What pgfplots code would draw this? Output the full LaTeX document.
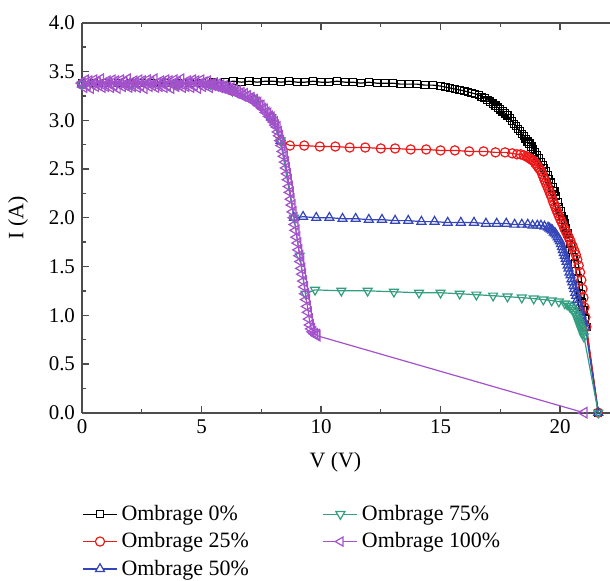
\documentclass[border=0pt]{standalone}
\usepackage{fontspec}
\setmainfont{Liberation Serif}
\usepackage{pgfplots}
\pgfplotsset{compat=1.18}
\usetikzlibrary{calc}

\definecolor{c0}{rgb}{0,0,0}
\definecolor{c25}{rgb}{0.93,0.1,0.1}
\definecolor{c50}{rgb}{0.2,0.27,0.72}
\definecolor{c75}{rgb}{0.2,0.62,0.5}
\definecolor{c100}{rgb}{0.64,0.32,0.8}
\definecolor{axgray}{rgb}{0.3,0.3,0.3}

\begin{document}
\begin{tikzpicture}
\begin{axis}[
    scale only axis,
    width=264bp, height=195bp,
    xmin=0, xmax=22.09, ymin=0, ymax=4,
    axis y line*=left,
    xtick pos=both,
    clip=false,
    xtick={0,5,10,15,20},
    ytick={0,0.5,1,1.5,2,2.5,3,3.5,4},
    minor x tick num=1,
    minor y tick num=1,
    tick align=inside,
    major tick length=3.5bp,
    minor tick length=2bp,
    tick style={axgray, line width=0.7bp},
    axis line style={axgray, line width=0.9bp},
    /pgf/number format/assume math mode=true,
    ticklabel style={font=\fontsize{10.5}{12}\selectfont},
    yticklabel style={/pgf/number format/.cd, fixed, fixed zerofill, precision=1},
    xlabel={V (V)},
    ylabel={I (A)},
    label style={font=\fontsize{11}{13}\selectfont},
    xlabel style={at={(axis description cs:0.48,-0.128)}, anchor=center},
    ylabel style={at={(axis description cs:-0.121,0.5)}, anchor=center},
    every axis plot/.append style={line width=0.6bp},
    legend columns=2,
    legend cell align=left,
    legend style={at={(rel axis cs:0,0)}, anchor=north west, yshift=-44bp,
        draw=none, fill=none, inner sep=0pt, row sep=0.6bp,
        font=\fontsize{11}{13}\selectfont,
        /tikz/every even column/.append style={column sep=35bp}},
]
% legend order: column 1 = 0, 25, 50 ; column 2 = 75, 100
\addlegendimage{c0, mark=square*, mark options={fill=white, mark size=1.8bp}}
\addlegendentry{Ombrage 0\%}
\addlegendimage{c75, mark=triangle*, mark options={fill=white, rotate=180, mark size=2.6bp}}
\addlegendentry{Ombrage 75\%}
\addlegendimage{c25, mark=*, mark options={fill=white, mark size=2.3bp}}
\addlegendentry{Ombrage 25\%}
\addlegendimage{c100, mark=triangle*, mark options={fill=white, rotate=90, mark size=2.6bp}}
\addlegendentry{Ombrage 100\%}
\addlegendimage{c50, mark=triangle*, mark options={fill=white, mark size=2.6bp}}
\addlegendentry{Ombrage 50\%}

% 0 %
\addplot[c0, mark=square, mark options={mark size=1.8bp}, forget plot] coordinates {
(0,3.38) (0.5,3.38) (1,3.38) (1.5,3.38) (2,3.38) (2.5,3.38) (3,3.38) (3.5,3.38)
(4,3.38) (4.5,3.38) (5,3.38) (5.5,3.39) (6.0,3.39) (6.33,3.40) (6.67,3.39) (7.0,3.40)
(7.33,3.39) (7.67,3.40) (8.0,3.40) (8.33,3.39) (8.67,3.40) (9.0,3.39) (9.33,3.39)
(9.67,3.40) (10.0,3.39) (10.33,3.39) (10.67,3.40) (11.0,3.39) (11.33,3.39) (11.67,3.38)
(12.0,3.39) (12.33,3.38) (12.67,3.38) (13.0,3.38) (13.33,3.37) (13.67,3.37) (14.0,3.37)
(14.33,3.36) (14.67,3.36) (15.0,3.35) (15.2,3.34) (15.4,3.33) (15.6,3.32) (15.8,3.31)
(16.0,3.30) (16.15,3.29) (16.3,3.28) (16.45,3.27) (16.6,3.26) (16.72,3.24) (16.84,3.23)
(16.96,3.21) (17.08,3.19) (17.2,3.17) (17.3,3.15) (17.4,3.13) (17.5,3.11) (17.6,3.09)
(17.7,3.07) (17.8,3.05) (17.9,3.02) (18.0,2.99) (18.08,2.96) (18.16,2.94) (18.24,2.91)
(18.32,2.89) (18.4,2.86) (18.48,2.84) (18.56,2.81) (18.64,2.78) (18.72,2.76) (18.8,2.73)
(18.88,2.70) (18.96,2.67) (19.04,2.64) (19.12,2.61) (19.2,2.57) (19.27,2.54) (19.34,2.51)
(19.41,2.48) (19.48,2.44) (19.55,2.40) (19.62,2.36) (19.69,2.31) (19.76,2.27) (19.83,2.22)
(19.9,2.16) (19.96,2.11) (20.02,2.07) (20.08,2.02) (20.14,1.98) (20.2,1.94) (20.26,1.89)
(20.32,1.84) (20.38,1.79) (20.44,1.73) (20.5,1.67) (20.56,1.60) (20.62,1.53) (20.68,1.45)
(20.74,1.38) (20.8,1.30) (20.86,1.22) (20.92,1.13) (20.98,1.05) (21.04,0.96) (21.1,0.88)
(21.6,0.0)
};

% 25 %
\addplot[c25, mark=o, mark options={mark size=2.3bp}, forget plot] coordinates {
(0,3.37) (2,3.37) (4,3.37) (5.39,3.37) (6.3,3.30) (7.21,3.21) (7.91,3.03) (8.31,2.79)
(8.7,2.74) (9.3,2.74) (9.95,2.73) (10.6,2.73) (11.2,2.72) (11.85,2.72) (12.5,2.71)
(13.1,2.71) (13.75,2.70) (14.4,2.70) (15.0,2.69) (15.6,2.69) (16.2,2.68) (16.8,2.68)
(17.3,2.67) (17.7,2.67) (18.0,2.66) (18.2,2.65) (18.35,2.65) (18.48,2.64) (18.6,2.63)
(18.66,2.62) (18.72,2.61) (18.78,2.60) (18.84,2.59) (18.9,2.58) (18.96,2.56) (19.02,2.54)
(19.08,2.52) (19.14,2.50) (19.2,2.48) (19.25,2.45) (19.3,2.42) (19.35,2.39) (19.4,2.36)
(19.45,2.33) (19.5,2.30) (19.55,2.27) (19.6,2.24) (19.65,2.21) (19.7,2.17) (19.75,2.14)
(19.8,2.11) (19.85,2.08) (19.9,2.05) (19.95,2.02) (20.0,1.99) (20.06,1.96) (20.12,1.93)
(20.18,1.89) (20.24,1.86) (20.3,1.83) (20.36,1.80) (20.42,1.77) (20.48,1.73) (20.54,1.70)
(20.6,1.66) (20.66,1.62) (20.72,1.57) (20.78,1.51) (20.84,1.44) (20.89,1.36) (20.94,1.27)
(20.98,1.18) (21.02,1.08) (21.06,0.98) (21.1,0.88) (21.6,0.0)
};

% 50 %
\addplot[c50, mark=triangle, mark options={mark size=2.6bp}, forget plot] coordinates {
(0,3.37) (2,3.37) (4,3.37) (5.39,3.37) (6.3,3.30) (7.21,3.21) (7.91,3.03) (8.31,2.79)
(8.87,2.00)
(9.25,2.01) (9.8,2.00) (10.35,2.00) (10.9,1.99) (11.45,1.99) (12.0,1.98) (12.55,1.98)
(13.1,1.97) (13.65,1.97) (14.2,1.96) (14.75,1.96) (15.3,1.95) (15.85,1.95) (16.4,1.95)
(16.9,1.94) (17.35,1.94) (17.75,1.94) (18.1,1.93) (18.4,1.93) (18.65,1.93) (18.85,1.92)
(19.05,1.92) (19.2,1.92) (19.35,1.91) (19.5,1.90) (19.56,1.89) (19.62,1.88) (19.68,1.87)
(19.74,1.85) (19.8,1.84) (19.85,1.82) (19.9,1.80) (19.95,1.78) (20.0,1.76) (20.04,1.73)
(20.08,1.70) (20.12,1.67) (20.16,1.64) (20.2,1.61) (20.24,1.58) (20.28,1.55) (20.32,1.51)
(20.36,1.48) (20.4,1.44) (20.44,1.41) (20.48,1.37) (20.52,1.34) (20.56,1.30) (20.6,1.27)
(20.64,1.23) (20.68,1.20) (20.72,1.16) (20.76,1.13) (20.8,1.09) (20.85,1.05) (20.9,1.00)
(20.95,0.96) (21.0,0.92) (21.05,0.88) (21.6,0.0)
};

% 75 %
\addplot[c75, mark=triangle, mark options={rotate=180, mark size=2.6bp}, forget plot] coordinates {
(0,3.37) (2,3.37) (4,3.37) (5.39,3.37) (6.3,3.30) (7.21,3.21) (7.91,3.03) (8.31,2.79)
(8.87,2.00) (9.11,1.61) (9.35,1.22)
(9.75,1.26) (10.85,1.25) (11.95,1.25) (13.05,1.24) (14.1,1.23) (15.0,1.23) (15.8,1.22)
(16.5,1.21) (17.2,1.20) (17.8,1.19) (18.4,1.18) (18.9,1.17) (19.3,1.16) (19.65,1.15)
(19.95,1.14) (20.2,1.12) (20.3,1.11) (20.4,1.09) (20.47,1.07) (20.55,1.05) (20.6,1.03)
(20.65,1.01) (20.69,0.99) (20.72,0.97) (20.75,0.95) (20.78,0.93) (20.81,0.91) (20.84,0.89)
(20.87,0.87) (20.9,0.85) (20.93,0.83) (20.96,0.81) (21.0,0.78) (21.6,0.0)
};

% 100 %
\addplot[c100, mark=triangle, mark options={rotate=90, mark size=3bp}, forget plot] coordinates {
(0.00,3.38) (0.07,3.34) (0.14,3.41) (0.21,3.36) (0.28,3.40) (0.35,3.33) (0.42,3.37) (0.49,3.41)
(0.56,3.35) (0.63,3.39) (0.70,3.36) (0.77,3.42) (0.84,3.34) (0.91,3.38) (0.98,3.35) (1.05,3.40)
(1.12,3.38) (1.19,3.34) (1.26,3.41) (1.33,3.36) (1.40,3.40) (1.47,3.33) (1.54,3.37) (1.61,3.41)
(1.68,3.35) (1.75,3.39) (1.82,3.36) (1.89,3.42) (1.96,3.34) (2.03,3.38) (2.10,3.35) (2.17,3.40)
(2.24,3.38) (2.31,3.34) (2.38,3.41) (2.45,3.36) (2.52,3.40) (2.59,3.33) (2.66,3.37) (2.73,3.41)
(2.80,3.35) (2.87,3.39) (2.94,3.36) (3.01,3.42) (3.08,3.34) (3.15,3.38) (3.22,3.35) (3.29,3.40)
(3.36,3.38) (3.43,3.34) (3.50,3.41) (3.57,3.36) (3.64,3.40) (3.71,3.33) (3.78,3.37) (3.85,3.41)
(3.92,3.35) (3.99,3.39) (4.06,3.36) (4.13,3.42) (4.20,3.34) (4.27,3.38) (4.34,3.35) (4.41,3.40)
(4.48,3.38) (4.55,3.34) (4.62,3.41) (4.69,3.36) (4.76,3.40) (4.83,3.33) (4.90,3.37) (4.97,3.41)
(5.04,3.35) (5.11,3.39) (5.18,3.36) (5.25,3.40) (5.32,3.34)
(5.39,3.37) (5.46,3.36) (5.53,3.38) (5.60,3.35) (5.67,3.37) (5.74,3.34) (5.81,3.36) (5.88,3.33)
(5.95,3.35) (6.02,3.32) (6.09,3.34) (6.16,3.31) (6.23,3.33) (6.30,3.30) (6.37,3.31) (6.44,3.28)
(6.51,3.30) (6.58,3.27) (6.65,3.28) (6.72,3.25) (6.79,3.27) (6.86,3.24) (6.93,3.25) (7.00,3.22)
(7.07,3.23) (7.14,3.20) (7.21,3.21) (7.28,3.18) (7.35,3.18) (7.42,3.15) (7.49,3.15) (7.56,3.12)
(7.63,3.11) (7.70,3.08) (7.77,3.07) (7.84,3.04) (7.91,3.03) (7.98,3.00) (8.04,2.98) (8.10,2.95)
(8.16,2.93) (8.21,2.88) (8.26,2.84) (8.31,2.79) (8.36,2.74) (8.41,2.68) (8.46,2.63) (8.51,2.57)
(8.55,2.51) (8.59,2.45) (8.63,2.39) (8.67,2.32) (8.71,2.26) (8.75,2.19) (8.79,2.13) (8.83,2.06)
(8.87,2.00) (8.91,1.93) (8.95,1.87) (8.99,1.80) (9.03,1.74) (9.07,1.67) (9.11,1.61) (9.15,1.55)
(9.19,1.48) (9.23,1.42) (9.27,1.35) (9.31,1.29) (9.35,1.22) (9.39,1.16) (9.43,1.09) (9.47,1.03)
(9.51,0.96) (9.55,0.90) (9.60,0.86) (9.66,0.83) (9.73,0.81) (9.80,0.80) (9.83,0.79) (21.0,0.0)
};

\coordinate (SW) at (rel axis cs:0,0);
\coordinate (NE) at (rel axis cs:1,1);
\end{axis}
\pgfresetboundingbox
\path[use as bounding box] ($(SW)+(-41bp,-84bp)$) rectangle ($(NE)+(0,11.35bp)$);
\end{tikzpicture}
\end{document}
